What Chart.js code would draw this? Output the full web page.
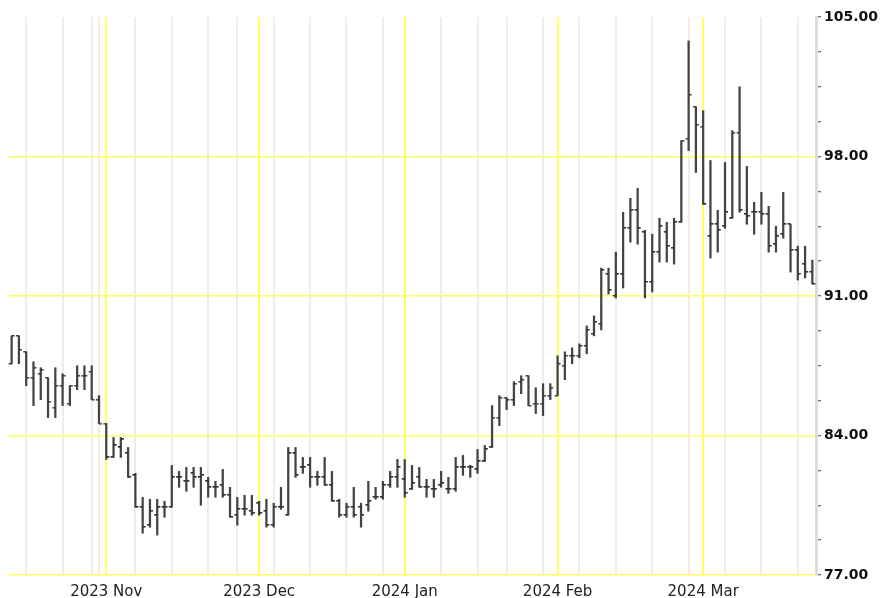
<!DOCTYPE html>
<html>
<head>
<meta charset="utf-8">
<script src="https://cdn.jsdelivr.net/npm/chart.js@4.4.1/dist/chart.umd.min.js"></script>
<style>
    html, body { margin: 0; padding: 0; background: #fff; }
    #wrap { width: 888px; height: 598px; }
</style>
</head>
<body>
<div id="wrap"><canvas id="chart"></canvas></div>
<script>
// trading days, 2023-10-13 .. 2024-03-22
const dates = [
    '2023-10-13','2023-10-16','2023-10-17','2023-10-18','2023-10-19','2023-10-20','2023-10-23','2023-10-24','2023-10-25','2023-10-26','2023-10-27','2023-10-30','2023-10-31',
    '2023-11-01','2023-11-02','2023-11-03','2023-11-06','2023-11-07','2023-11-08','2023-11-09','2023-11-10','2023-11-13','2023-11-14','2023-11-15','2023-11-16','2023-11-17','2023-11-20','2023-11-21','2023-11-22','2023-11-24','2023-11-27','2023-11-28','2023-11-29','2023-11-30',
    '2023-12-01','2023-12-04','2023-12-05','2023-12-06','2023-12-07','2023-12-08','2023-12-11','2023-12-12','2023-12-13','2023-12-14','2023-12-15','2023-12-18','2023-12-19','2023-12-20','2023-12-21','2023-12-22','2023-12-26','2023-12-27','2023-12-28','2023-12-29',
    '2024-01-02','2024-01-03','2024-01-04','2024-01-05','2024-01-08','2024-01-09','2024-01-10','2024-01-11','2024-01-12','2024-01-16','2024-01-17','2024-01-18','2024-01-19','2024-01-22','2024-01-23','2024-01-24','2024-01-25','2024-01-26','2024-01-29','2024-01-30','2024-01-31',
    '2024-02-01','2024-02-02','2024-02-05','2024-02-06','2024-02-07','2024-02-08','2024-02-09','2024-02-12','2024-02-13','2024-02-14','2024-02-15','2024-02-16','2024-02-20','2024-02-21','2024-02-22','2024-02-23','2024-02-26','2024-02-27','2024-02-28','2024-02-29',
    '2024-03-01','2024-03-04','2024-03-05','2024-03-06','2024-03-07','2024-03-08','2024-03-11','2024-03-12','2024-03-13','2024-03-14','2024-03-15','2024-03-18','2024-03-19','2024-03-20','2024-03-21','2024-03-22'
];

const opens = [
    87.6, 89.0, 88.2, 86.9, 87.1, 86.9, 85.4, 86.5, 85.6, 86.5, 87.0, 87.2, 85.8,
    84.6, 82.9, 83.4, 83.1, 82.0, 80.4, 79.5, 80.0, 80.4, 80.4, 81.9, 81.7, 82.1, 81.9, 81.7, 81.4, 81.5, 81.0, 80.0, 80.3, 80.2,
    80.6, 80.2, 79.5, 80.4, 80.0, 83.1, 82.4, 82.5, 81.9, 81.9, 81.5, 80.7, 80.0, 80.4, 80.4, 80.5, 80.9, 80.9, 81.5, 81.9,
    81.8, 81.3, 81.9, 81.4, 81.3, 81.5, 81.3, 81.3, 82.4, 82.4, 82.3, 82.7, 83.4, 84.9, 85.9, 85.8, 86.7, 87.0, 85.6, 85.6, 86.0,
    86.0, 87.5, 88.0, 88.0, 88.5, 89.1, 89.6, 92.1, 91.0, 92.1, 94.4, 95.3, 94.2, 91.7, 93.2, 94.2, 93.4, 94.7, 98.9, 100.5,
    99.5, 94.0, 94.6, 94.5, 94.9, 99.2, 95.1, 95.2, 95.2, 95.1, 93.6, 94.1, 94.6, 93.3, 92.6, 92.2
];
const highs = [
    89.0, 89.0, 88.2, 87.7, 87.4, 86.9, 87.4, 87.1, 86.5, 87.5, 87.5, 87.5, 86.0,
    84.6, 83.9, 83.9, 83.4, 82.1, 80.9, 80.8, 80.8, 80.7, 82.5, 82.2, 82.4, 82.4, 82.4, 81.9, 81.7, 82.3, 81.4, 80.9, 81.0, 81.0,
    80.7, 80.8, 80.6, 81.4, 83.4, 83.4, 82.9, 82.9, 82.2, 82.9, 82.2, 80.8, 80.6, 81.4, 80.6, 81.7, 81.4, 81.7, 82.2, 82.8,
    82.8, 82.5, 82.4, 81.8, 81.8, 82.2, 81.9, 82.9, 83.0, 82.5, 83.3, 83.5, 85.5, 86.0, 85.9, 86.7, 87.0, 87.0, 86.4, 86.6, 86.6,
    88.0, 88.2, 88.4, 88.6, 89.5, 90.0, 92.4, 92.4, 93.2, 95.2, 95.9, 96.4, 94.3, 94.1, 94.9, 94.7, 94.9, 98.8, 103.8, 100.5,
    100.3, 97.8, 95.3, 97.7, 99.3, 101.5, 97.5, 95.7, 96.2, 95.5, 94.5, 96.2, 94.6, 93.5, 93.5, 92.8
];
const lows = [
    87.6, 87.6, 86.5, 85.5, 85.8, 84.9, 84.9, 85.5, 85.5, 86.3, 86.3, 85.8, 84.6,
    82.8, 82.9, 82.9, 81.9, 80.4, 79.1, 79.4, 79.0, 79.9, 80.4, 81.4, 81.2, 81.4, 80.5, 80.9, 80.9, 80.9, 79.9, 79.5, 80.0, 80.0,
    80.0, 79.4, 79.4, 80.3, 80.0, 81.9, 82.1, 81.4, 81.5, 81.5, 80.7, 79.9, 79.9, 79.9, 79.4, 80.2, 80.8, 80.8, 81.4, 81.4,
    80.9, 81.3, 81.4, 80.9, 80.9, 81.4, 81.1, 81.2, 82.0, 81.9, 82.1, 82.7, 83.4, 84.5, 85.3, 85.5, 86.1, 85.5, 85.1, 85.0, 85.8,
    86.0, 86.8, 87.6, 87.9, 88.1, 89.0, 89.3, 91.1, 90.9, 91.4, 93.7, 93.6, 90.9, 91.2, 92.7, 92.7, 92.6, 94.7, 98.3, 97.2,
    95.6, 92.9, 93.2, 94.4, 94.9, 95.2, 94.6, 94.1, 94.6, 93.2, 93.2, 93.9, 92.2, 91.8, 91.9, 91.6
];
const closes = [
    89.0, 88.3, 86.9, 87.4, 87.3, 85.7, 86.5, 87.0, 86.5, 87.0, 87.0, 85.8, 84.6,
    82.9, 83.5, 83.8, 81.9, 80.4, 79.4, 80.2, 80.4, 80.4, 81.9, 81.9, 81.7, 81.9, 82.0, 81.4, 81.4, 81.0, 79.9, 80.3, 80.3, 80.1,
    80.1, 79.5, 80.4, 80.4, 83.1, 82.0, 82.4, 81.9, 81.9, 81.5, 80.7, 80.0, 80.4, 80.0, 80.0, 80.7, 80.9, 81.5, 81.9, 82.4,
    81.1, 81.6, 81.4, 81.4, 81.3, 81.6, 81.3, 82.4, 82.4, 82.4, 82.7, 83.3, 84.9, 85.9, 85.8, 86.6, 86.8, 85.5, 85.6, 86.0, 86.4,
    87.6, 88.0, 88.0, 88.5, 89.3, 89.7, 92.3, 91.3, 92.1, 94.4, 95.3, 94.4, 91.7, 93.2, 94.5, 93.5, 94.7, 98.8, 101.1, 99.6,
    95.6, 94.6, 94.3, 95.2, 99.2, 95.3, 95.0, 95.2, 95.1, 93.5, 94.0, 94.6, 93.3, 92.1, 92.2, 91.6
];

const monthStarts = ['2023-11-01', '2023-12-01', '2024-01-02', '2024-02-01', '2024-03-01'];
const weekLines = [
    '2023-10-17', '2023-10-24', '2023-10-30', '2023-10-31', '2023-11-07', '2023-11-14', '2023-11-21', '2023-11-28',
    '2023-12-05', '2023-12-12', '2023-12-19', '2023-12-27', '2024-01-09', '2024-01-17', '2024-01-23', '2024-01-30',
    '2024-02-06', '2024-02-13', '2024-02-21', '2024-02-28', '2024-03-06', '2024-03-13', '2024-03-20'
];
const yMajor = [77, 84, 91, 98, 105];

const monthNames = ['Jan','Feb','Mar','Apr','May','Jun','Jul','Aug','Sep','Oct','Nov','Dec'];
function monthLabel(d) {
    return d.slice(0, 4) + ' ' + monthNames[parseInt(d.slice(5, 7), 10) - 1];
}
function isMajor(v) {
    return yMajor.some(m => Math.abs(m - v) < 1e-6);
}

// little tick marks for open (left) and close (right)
function makeTick(side) {
    const c = document.createElement('canvas');
    c.width = 10;
    c.height = 2;
    const g = c.getContext('2d');
    g.fillStyle = '#333';
    if (side === 'left') g.fillRect(2, 0, 3, 1.5);
    else g.fillRect(5, 0, 3, 1.5);
    return c;
}
const openMark = makeTick('left');
const closeMark = makeTick('right');

const ctx = document.getElementById('chart').getContext('2d');
new Chart(ctx, {
    type: 'bar',
    data: {
        labels: dates,
        datasets: [
            {
                type: 'line',
                data: opens,
                showLine: false,
                pointStyle: openMark,
                pointRadius: 3,
                order: 1
            },
            {
                type: 'line',
                data: closes,
                showLine: false,
                pointStyle: closeMark,
                pointRadius: 3,
                order: 1
            },
            {
                type: 'bar',
                data: lows.map((l, i) => [l, highs[i]]),
                backgroundColor: '#444',
                barThickness: 1.6,
                order: 2
            }
        ]
    },
    options: {
        responsive: true,
        maintainAspectRatio: false,
        animation: false,
        devicePixelRatio: 1,
        layout: { padding: { left: 8, top: 17, right: 0, bottom: 0 } },
        plugins: {
            legend: { display: false },
            tooltip: { enabled: false }
        },
        scales: {
            x: {
                type: 'category',
                offset: true,
                border: { display: false },
                grid: {
                    offset: false,
                    drawTicks: false,
                    color: c => {
                        const d = dates[c.index];
                        if (monthStarts.includes(d)) return '#ffff5e';
                        if (weekLines.includes(d)) return '#f1ede2';
                        return 'rgba(0,0,0,0)';
                    },
                    lineWidth: 2
                },
                ticks: {
                    autoSkip: false,
                    maxRotation: 0,
                    padding: 8,
                    color: '#222',
                    font: { family: 'DejaVu Sans', size: 15 },
                    callback: function(val, idx) {
                        const d = dates[idx];
                        return monthStarts.includes(d) ? monthLabel(d) : '';
                    }
                },
                afterFit: function(scale) { scale.height = 23; }
            },
            y: {
                position: 'right',
                min: 77,
                max: 105,
                border: { color: '#dcdcdc', width: 3 },
                grid: {
                    color: c => (isMajor(c.tick.value) && c.tick.value < 105) ? '#ffff66' : 'rgba(0,0,0,0)',
                    lineWidth: 1.5,
                    tickColor: '#444',
                    tickLength: 5,
                    tickWidth: 1
                },
                ticks: {
                    stepSize: 1.75,
                    padding: 3,
                    color: '#111',
                    font: { family: 'DejaVu Sans', size: 14, weight: 'bold' },
                    callback: v => isMajor(v) ? v.toFixed(2) : ''
                },
                afterFit: function(scale) { scale.width = 72; }
            }
        }
    }
});
</script>
</body>
</html>
